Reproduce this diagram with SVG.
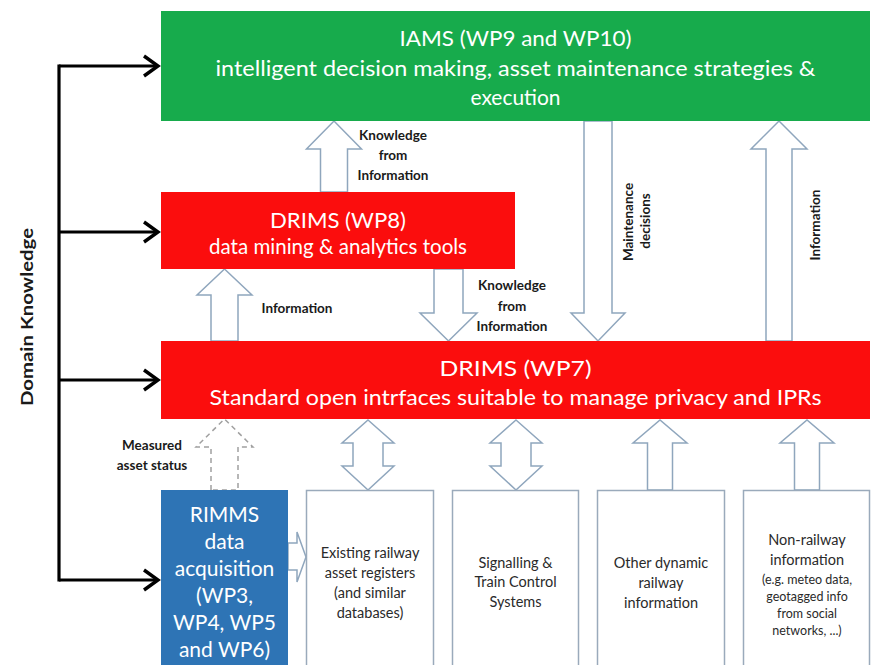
<svg xmlns="http://www.w3.org/2000/svg" width="871" height="665" viewBox="0 0 871 665">
<defs>
<style>
.bg{fill:#ffffff}
.green{fill:#17ab4c}
.red{fill:#fb0d0d}
.blue{fill:#2e74b5}
.plain{fill:#ffffff;stroke:#9aaabb;stroke-width:1.5}
.ba{fill:#ffffff;stroke:#8fa6bd;stroke-width:1.5;stroke-linejoin:miter}
.dash{fill:#ffffff;stroke:#a0a0a0;stroke-width:1.5;stroke-dasharray:5 4}
.dk{stroke:#000000;stroke-width:3.2;fill:none}
.h{font-family:Lato,"Liberation Sans",sans-serif;font-size:22px;fill:#ffffff;text-anchor:middle}
.r{font-family:Lato,"Liberation Sans",sans-serif;font-size:21px;fill:#ffffff;text-anchor:middle}
.lb{font-family:Lato,"Liberation Sans",sans-serif;font-size:13.5px;font-weight:bold;fill:#1a1a1a;text-anchor:middle}
.bx{font-family:Lato,"Liberation Sans",sans-serif;font-size:14.5px;fill:#2a2a2a;text-anchor:middle}
.sm{font-family:Lato,"Liberation Sans",sans-serif;font-size:12.5px;fill:#2a2a2a;text-anchor:middle}
</style>
<marker id="chev" viewBox="0 0 20 24" refX="17" refY="12" markerWidth="20" markerHeight="24" markerUnits="userSpaceOnUse" orient="auto">
<path d="M3,2 L17,12 L3,22" fill="none" stroke="#000" stroke-width="3.4"/>
</marker>
</defs>
<rect class="bg" x="0" y="0" width="871" height="665"/>

<g id="connectors">
<!-- domain knowledge -->
<line class="dk" x1="59" y1="64.4" x2="59" y2="581.6"/>
<line class="dk" x1="59" y1="66" x2="158" y2="66" marker-end="url(#chev)"/>
<line class="dk" x1="59" y1="232" x2="158" y2="232" marker-end="url(#chev)"/>
<line class="dk" x1="59" y1="380" x2="158" y2="380" marker-end="url(#chev)"/>
<line class="dk" x1="59" y1="580" x2="158" y2="580" marker-end="url(#chev)"/>
<!-- block arrows -->
<polygon class="ba" points="320.5,192 320.5,149 306.5,149 334,121 361.5,149 347.5,149 347.5,192"/>
<polygon class="ba" points="434,269 434,313 420,313 448.5,341 477,313 463,313 463,269"/>
<polygon class="ba" points="584,121 584,313 571,313 598,341 625,313 612,313 612,121"/>
<polygon class="ba" points="766,341 766,149 751,149 779,121 807,149 792,149 792,341"/>
<polygon class="ba" points="211,341 211,295 197,295 224.5,269 252,295 238,295 238,341"/>
<polygon class="dash" points="211,490 211,447 196,447 224.5,419 253,447 238,447 238,490"/>
<polygon class="ba" points="368,420 394,443 383,443 383,466 394,466 368,490 342,466 353,466 353,443 342,443"/>
<polygon class="ba" points="516,420 542,443 531,443 531,466 542,466 516,490 490,466 501,466 501,443 490,443"/>
<polygon class="ba" points="647.5,490 647.5,443 633,443 660,420 687,443 672.5,443 672.5,490"/>
<polygon class="ba" points="794.5,490 794.5,443 780,443 807,420 834,443 819.5,443 819.5,490"/>
<polygon class="ba" points="288,543 297,543 297,532 306,557 297,582 297,570 288,570"/>
<!-- labels -->
<text class="lb"><tspan x="393" y="140">Knowledge</tspan><tspan x="393" y="160">from</tspan><tspan x="393" y="180">Information</tspan></text>
<text class="lb"><tspan x="512" y="290">Knowledge</tspan><tspan x="512" y="311">from</tspan><tspan x="512" y="331">Information</tspan></text>
<text class="lb" x="297" y="313">Information</text>
<text class="lb"><tspan x="152" y="450">Measured</tspan><tspan x="152" y="470">asset status</tspan></text>
<text class="lb" transform="translate(633,222) rotate(-90)">Maintenance</text>
<text class="lb" transform="translate(650,221) rotate(-90)">decisions</text>
<text class="lb" transform="translate(820,225) rotate(-90)">Information</text>
<text class="lb" style="font-size:17px" transform="translate(33,317) rotate(-90)" textLength="178" lengthAdjust="spacingAndGlyphs">Domain Knowledge</text>
</g>

<g id="iams">
<rect class="green" x="161" y="11" width="709" height="110"/>
<text class="h" x="515.5" y="46" textLength="232" lengthAdjust="spacingAndGlyphs">IAMS (WP9 and WP10)</text>
<text class="h" x="515.5" y="76" textLength="600" lengthAdjust="spacingAndGlyphs">intelligent decision making, asset maintenance strategies &amp;</text>
<text class="h" x="515.5" y="105" textLength="90" lengthAdjust="spacingAndGlyphs">execution</text>
</g>

<g id="drims-wp8">
<rect class="red" x="161" y="192" width="354" height="77"/>
<text class="h" x="338" y="228" textLength="136" lengthAdjust="spacingAndGlyphs">DRIMS (WP8)</text>
<text class="h" x="338" y="254" textLength="258" lengthAdjust="spacingAndGlyphs">data mining &amp; analytics tools</text>
</g>

<g id="drims-wp7">
<rect class="red" x="161" y="341" width="709" height="78"/>
<text class="h" x="515.5" y="376" textLength="152" lengthAdjust="spacingAndGlyphs">DRIMS (WP7)</text>
<text class="h" x="515.5" y="405" textLength="612" lengthAdjust="spacingAndGlyphs">Standard open intrfaces suitable to manage privacy and IPRs</text>
</g>

<g id="rimms">
<rect class="blue" x="161" y="490" width="127" height="180"/>
<text class="r"><tspan x="224.5" y="522">RIMMS</tspan><tspan x="224.5" y="549">data</tspan><tspan x="224.5" y="576">acquisition</tspan><tspan x="224.5" y="603">(WP3,</tspan><tspan x="224.5" y="630">WP4, WP5</tspan><tspan x="224.5" y="657">and WP6)</tspan></text>
</g>

<g id="existing">
<rect class="plain" x="306.5" y="490.5" width="127" height="180"/>
<text class="bx"><tspan x="370" y="558">Existing railway</tspan><tspan x="370" y="578">asset registers</tspan><tspan x="370" y="598">(and similar</tspan><tspan x="370" y="618">databases)</tspan></text>
</g>

<g id="signalling">
<rect class="plain" x="452.5" y="490.5" width="126" height="180"/>
<text class="bx"><tspan x="515.5" y="568">Signalling &amp;</tspan><tspan x="515.5" y="587">Train Control</tspan><tspan x="515.5" y="607">Systems</tspan></text>
</g>

<g id="other">
<rect class="plain" x="597.5" y="490.5" width="127" height="180"/>
<text class="bx"><tspan x="661" y="568">Other dynamic</tspan><tspan x="661" y="588">railway</tspan><tspan x="661" y="608">information</tspan></text>
</g>

<g id="nonrailway">
<rect class="plain" x="743.5" y="490.5" width="126" height="180"/>
<text class="bx"><tspan x="807" y="545">Non-railway</tspan><tspan x="807" y="565">information</tspan></text>
<text class="sm"><tspan x="807" y="584">(e.g. meteo data,</tspan><tspan x="807" y="601">geotagged info</tspan><tspan x="807" y="618">from social</tspan><tspan x="807" y="635">networks, ...)</tspan></text>
</g>
</svg>
